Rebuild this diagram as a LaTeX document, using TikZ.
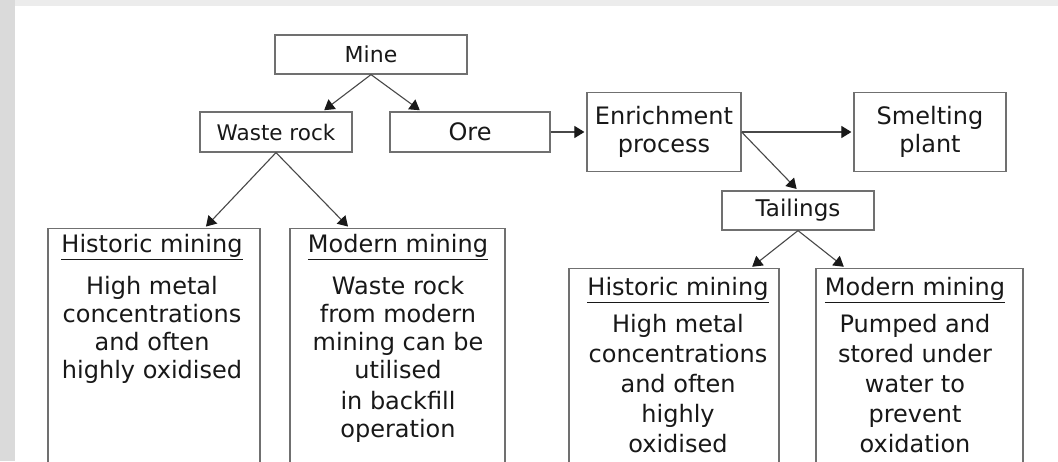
\documentclass[tikz,border=0pt]{standalone}
\usepackage{fontspec}
\setmainfont{DejaVu Sans}
\usepackage{tikz}
\usetikzlibrary{arrows.meta}
\definecolor{frame}{RGB}{112, 112, 112}
\definecolor{ink}{RGB}{24, 24, 24}
\definecolor{wire}{RGB}{72, 72, 72}
\definecolor{side}{RGB}{218, 218, 218}
\definecolor{band}{RGB}{236, 236, 236}

\begin{document}
\begin{tikzpicture}[x=1pt, y=-1pt,
  box/.style={draw=frame, line width=1.2pt, fill=white, text=ink, inner sep=0pt,
    align=center, font=\fontsize{24}{28}\selectfont},
  panel/.style={draw=frame, line width=1.2pt, anchor=north, minimum height=260pt,
    inner sep=0pt},
  paneltext/.style={anchor=north, inner sep=0pt, align=center, text=ink},
  link/.style={draw=wire, line width=1.1pt, shorten >=2pt,
    -{Triangle[length=10pt, width=12pt, color=black!90]}}]

  \useasboundingbox (0, 0) rectangle (1058, 461);
  \clip (0, 0) rectangle (1058, 461);
  \fill[white] (0, 0) rectangle (1058, 461);
  \fill[band] (0, 0) rectangle (1058, 6);
  \fill[side] (0, 0) rectangle (15, 461);

  % upper row
  \node[box, minimum width=192pt, minimum height=39pt,
    font=\fontsize{22}{26}\selectfont] (mine) at (371, 54.5) {Mine};
  \node[box, minimum width=152pt, minimum height=40pt,
    font=\fontsize{21.5}{26}\selectfont] (waste) at (276, 132) {Waste rock};
  \node[box, minimum width=160pt, minimum height=40pt] (ore) at (470, 132) {Ore};
  \node[box, minimum width=154pt, minimum height=79pt] (enrich) at (664, 132)
    {Enrichment\\process};
  \node[box, minimum width=152pt, minimum height=79pt] (smelt) at (930, 132)
    {Smelting\\plant};
  \node[box, minimum width=152pt, minimum height=39pt,
    font=\fontsize{23}{28}\selectfont] (tail) at (798, 210.5) {Tailings};

  % open panels, cut at the bottom edge
  \node[panel, minimum width=212pt] (whist) at (154, 228) {};
  \node[panel, minimum width=215pt] (wmod) at (397.5, 228) {};
  \node[panel, minimum width=210pt] (thist) at (674, 268) {};
  \node[panel, minimum width=207pt] (tmod) at (919.5, 268) {};

  \node[paneltext, font=\fontsize{24}{28}\selectfont] (whistt) at (152, 234)
    {\underline{Historic mining}\\[14pt]High metal\\concentrations\\and often\\highly oxidised};
  \node[paneltext, font=\fontsize{24}{28}\selectfont] (wmodt) at (398, 234)
    {\underline{Modern mining}\\[14pt]Waste rock\\from modern\\mining can be\\utilised\\[3pt]in backfill\\operation};
  \node[paneltext, font=\fontsize{24}{30}\selectfont] (thistt) at (678, 277)
    {\underline{Historic mining}\\[7pt]High metal\\concentrations\\and often\\highly\\oxidised};
  \node[paneltext, font=\fontsize{24}{30}\selectfont] (tmodt) at (915, 277)
    {\underline{Modern mining}\\[7pt]Pumped and\\stored under\\water to\\prevent\\oxidation};

  \draw[link] (mine.south) -- ([xshift=-30pt]waste.north east);
  \draw[link] (mine.south) -- ([xshift=32pt]ore.north west);
  \draw[link] (ore.east) -- (enrich.west);
  \draw[link] (enrich.east) -- (smelt.west);
  \draw[link] (enrich.east) -- (tail.north);
  \draw[link] (waste.south) -- ([xshift=-56pt]whist.north east);
  \draw[link] (waste.south) -- ([xshift=60pt]wmod.north west);
  \draw[link] (tail.south) -- ([xshift=-29pt]thist.north east);
  \draw[link] (tail.south) -- ([xshift=30pt]tmod.north west);

\end{tikzpicture}
\end{document}
